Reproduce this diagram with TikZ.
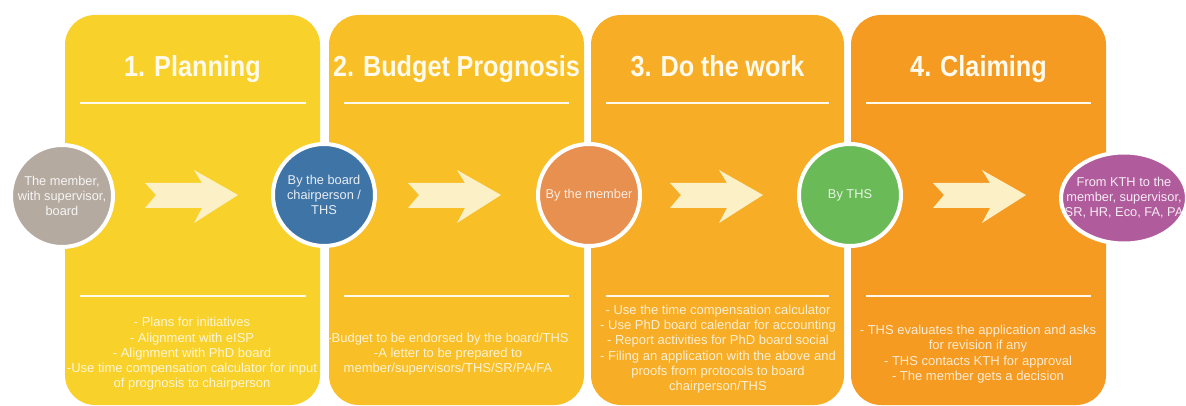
\documentclass[tikz,border=0pt]{standalone}
\usepackage{fontspec}
\setmainfont{Liberation Sans}
\newfontfamily\headfont{Liberation Sans}[FakeStretch=0.87,WordSpace=0.95]
\usetikzlibrary{shapes.geometric}
\definecolor{pA}{HTML}{F9D12B}
\definecolor{pB}{HTML}{F8BF26}
\definecolor{pC}{HTML}{F7AD25}
\definecolor{pD}{HTML}{F59B22}
\definecolor{arrowc}{HTML}{FCF0C6}
\definecolor{headc}{HTML}{FFFAEC}
\definecolor{cgrey}{HTML}{B4AAA0}
\definecolor{cblue}{HTML}{3F74A6}
\definecolor{corange}{HTML}{E8904F}
\definecolor{cgreen}{HTML}{6ABB57}
\definecolor{cpurple}{HTML}{B05C9C}
\tikzset{
  panel/.style={rounded corners=30pt},
  rule/.style={draw=headc, line width=1.8pt},
  head/.style={text=headc, font=\headfont\bfseries\fontsize{29}{32}\selectfont, inner sep=0pt, anchor=base},
  body/.style={align=center, inner sep=0pt, font=\fontsize{13}{15.3}\selectfont},
  stagefont/.style={align=center, font=\fontsize{12.8}{15}\selectfont},
  stage/.style={circle, draw=white, line width=4pt, minimum size=102pt, inner sep=0pt, stagefont},
  blockarrow/.style={fill=arrowc}
}
\begin{document}
\begin{tikzpicture}[x=1pt,y=-1pt]
\useasboundingbox (0,0) rectangle (1186,406);
\clip (0,0) rectangle (1186,406);
% panels
\fill[panel,pA] (65,15) rectangle (320,405);
\fill[panel,pB] (329,15) rectangle (584,405);
\fill[panel,pC] (591,15) rectangle (844,405);
\fill[panel,pD] (851,15) rectangle (1106,405);
% headings
\node[head] (h1) at (192.5,77) {1. Planning};
\node[head] (h2) at (456.5,77) {2. Budget Prognosis};
\node[head] (h3) at (717.5,77) {3. Do the work};
\node[head] (h4) at (978.5,77) {4. Claiming};
% rules
\foreach \a/\b in {80/306,344/569,606/829,866/1091}{
  \draw[rule] (\a,103) -- (\b,103);
  \draw[rule] (\a,296) -- (\b,296);
}
% block arrows
\foreach \x in {145,408,670,933}{
  \begin{scope}[shift={(\x,196)}]
    \fill[blockarrow] (0,-13) -- (11,-1) -- (0,12) -- (57,12) -- (49,27) -- (93,-1) -- (49,-26) -- (57,-13) -- cycle;
  \end{scope}
}
% stage circles
\node[stage, fill=cgrey, text=white!88!cgrey] (c1) at (62,196) {The member,\\with supervisor,\\board};
\node[stage, fill=cblue, text=white!88!cblue] (c2) at (324,195) {By the board\\chairperson /\\THS};
\node[stage, fill=corange, text=white!85!corange] (c3) at (589,195) {By the member};
\node[stage, fill=cgreen, text=white!85!cgreen] (c4) at (850,195) {By THS};
\node[ellipse, draw=white, line width=4pt, minimum width=126pt, minimum height=91pt, inner sep=0pt,
      fill=cpurple] (c5) at (1124,198) {};
\node[stagefont, inner sep=0pt, text=white!88!cpurple] (c5t) at (c5.center) {From KTH to the\\member, supervisor,\\SR, HR, Eco, FA, PA};
% bodies
\node[body, text=white!80!pA] (b1) at (192,354) {- Plans for initiatives\\- Alignment with eISP\\- Alignment with PhD board\\-Use time compensation calculator for input\\of prognosis to chairperson};
\node[body, text=white!80!pB] (b2) at (448,354) {-Budget to be endorsed by the board/THS\\-A letter to be prepared to\\member/supervisors/THS/SR/PA/FA};
\node[body, text=white!80!pC] (b3) at (718,349) {- Use the time compensation calculator\\- Use PhD board calendar for accounting\\- Report activities for PhD board social\\- Filing an application with the above and\\proofs from protocols to board\\chairperson/THS};
\node[body, text=white!80!pD] (b4) at (978,354) {- THS evaluates the application and asks\\for revision if any\\- THS contacts KTH for approval\\- The member gets a decision};
\end{tikzpicture}
\end{document}
